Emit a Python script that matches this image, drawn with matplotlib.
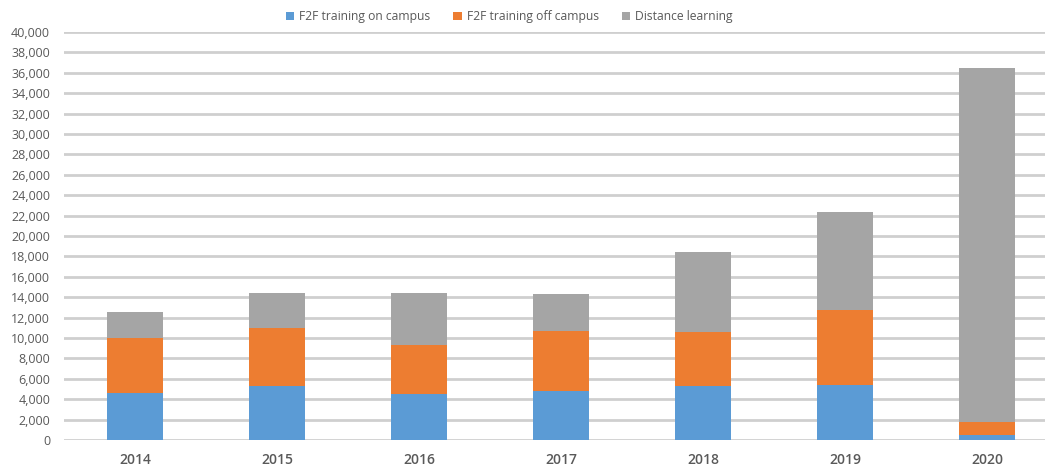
import matplotlib
matplotlib.use("Agg")
import matplotlib.pyplot as plt
from matplotlib.ticker import FuncFormatter
import numpy as np

# --- data ---
years = ["2014", "2015", "2016", "2017", "2018", "2019", "2020"]
on_campus = [4580, 5300, 4550, 4780, 5300, 5400, 500]
off_campus = [5450, 5710, 4760, 5910, 5300, 7300, 1250]
distance = [2520, 3370, 5130, 3590, 7800, 9650, 34700]

labels = ["F2F training on campus", "F2F training off campus", "Distance learning"]
colors = ["#5B9BD5", "#ED7D31", "#A5A5A5"]

plt.rcParams['font.family'] = ['Open Sans', 'DejaVu Sans']

fig = plt.figure(figsize=(10.45, 4.71), dpi=100)
# axes runs slightly past the right edge, as in the cropped original
ax = fig.add_axes([64 / 1045, 31 / 471, 994 / 1045, 408 / 471])

x = np.arange(len(years))
w = 0.4
bottom = np.zeros(len(years))
for vals, lab, col in zip([on_campus, off_campus, distance], labels, colors):
    ax.bar(x, vals, w, bottom=bottom, color=col, label=lab, zorder=3)
    bottom += np.array(vals)

ax.set_xlim(-0.5, len(years) - 0.5)
ax.set_ylim(0, 40000)
ax.set_yticks(range(0, 40001, 2000))
ax.yaxis.set_major_formatter(FuncFormatter(lambda v, p: f"{int(v):,}"))
ax.set_xticks(x)
ax.set_xticklabels(years, fontsize=10, fontweight='semibold', color="#595959")
ax.tick_params(axis='y', labelsize=9, colors="#595959", length=0, pad=10)
ax.tick_params(axis='x', length=0, pad=9)
ax.grid(axis='y', color="#CFCFCF", linewidth=2, zorder=0)
for s in ax.spines.values():
    s.set_visible(False)

ax.legend(loc='center', bbox_to_anchor=(0.448, 1.037),
          ncol=3, frameon=False, fontsize=8.7, handlelength=0.7, handleheight=0.7,
          columnspacing=1.9, handletextpad=0.4, labelcolor="#595959")

plt.savefig("out.png", dpi=100)
